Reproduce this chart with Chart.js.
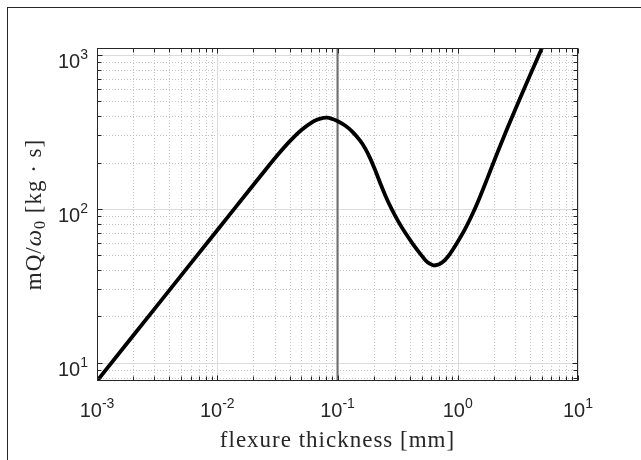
<!DOCTYPE html>
<html>
<head>
<meta charset="utf-8">
<script src="https://cdn.jsdelivr.net/npm/chart.js@4.4.1/dist/chart.umd.min.js"></script>
<style>
  html, body { margin: 0; padding: 0; background: #fff; }
  #wrap { position: relative; width: 641px; height: 460px; overflow: hidden; }
  #frame { position: absolute; left: 7px; top: 7px; width: 700px; height: 500px;
           border-left: 1px solid #262626; border-top: 1px solid #262626; }
  canvas { display: block; }
</style>
</head>
<body>
<div id="wrap">
  <canvas id="chart" width="641" height="460"></canvas>
  <div id="frame"></div>
</div>
<script>
// flexure thickness [mm] vs mQ/w0 [kg s]
const thickness = [0.001, 0.003162, 0.01, 0.01778, 0.02512, 0.03162, 0.03981, 0.05012, 0.0631, 0.0708,
                   0.0818, 0.0986, 0.1156, 0.1321, 0.1542, 0.1698, 0.1866, 0.2056, 0.2259, 0.2535,
                   0.2844, 0.3192, 0.3648, 0.4256, 0.4864, 0.5458, 0.5888, 0.6281, 0.6745, 0.7278,
                   0.7852, 0.865, 0.9829, 1.152, 1.352, 1.535, 1.746, 2.084, 2.559, 3.304,
                   3.999, 5.0];
const mqOverOmega = [7.6, 23.5, 72.6, 127.6, 178.9, 222.7, 273.2, 325.5, 369.9, 384.6,
                     391.7, 373.9, 348.0, 319.0, 277.7, 247.3, 213.6, 178.6, 147.9, 118.8,
                     98.3, 83.2, 70.1, 58.8, 51.2, 45.8, 43.8, 42.9, 43.2, 44.4,
                     46.6, 51.2, 59.7, 74.0, 95.6, 120.3, 154.7, 220.6, 327.7, 525.8,
                     741.8, 1104];

// vertical marker at 0.1 mm
const markerThickness = 0.1;

// axis limits and tick exponents
const xRange = [1e-3, 10];
const yRange = [7.6, 1110];
const xTickExponents = [-3, -2, -1, 0, 1];
const yTickExponents = [1, 2, 3];

const xTitle = 'flexure thickness [mm]';

function decadeValues(min, max) {
  const major = [], minor = [];
  for (let e = Math.floor(Math.log10(min)); e <= Math.ceil(Math.log10(max)); e++) {
    const p = Math.pow(10, e);
    if (p >= min * 0.9999 && p <= max * 1.0001) major.push(p);
    for (let m = 2; m <= 9; m++) {
      const v = m * p;
      if (v >= min && v <= max) minor.push(v);
    }
  }
  return { major, minor };
}

function drawPow(ctx, exp, x, baseY, align) {
  const base = '10';
  const sup = String(exp);
  ctx.font = '20px "Liberation Sans", Arial, sans-serif';
  const wb = ctx.measureText(base).width;
  ctx.font = '14px "Liberation Sans", Arial, sans-serif';
  const ws = ctx.measureText(sup).width;
  const total = wb + ws;
  let left = align === 'center' ? x - total / 2 : x - total;
  ctx.textAlign = 'left';
  ctx.textBaseline = 'alphabetic';
  ctx.font = '20px "Liberation Sans", Arial, sans-serif';
  ctx.fillText(base, left, baseY);
  ctx.font = '14px "Liberation Sans", Arial, sans-serif';
  ctx.fillText(sup, left + wb, baseY - 9);
}

const matlabAxes = {
  id: 'matlabAxes',
  beforeDatasetsDraw(chart) {
    const { ctx, chartArea: a, scales: { x, y } } = chart;
    const xs = decadeValues(xRange[0], xRange[1]);
    const ys = decadeValues(yRange[0], yRange[1]);
    ctx.save();
    ctx.lineWidth = 1;
    // minor grid, dotted
    ctx.setLineDash([1, 2]);
    ctx.strokeStyle = '#c4c4c4';
    xs.minor.forEach(v => {
      const px = Math.round(x.getPixelForValue(v)) + 0.5;
      ctx.beginPath(); ctx.moveTo(px, a.top); ctx.lineTo(px, a.bottom); ctx.stroke();
    });
    ys.minor.forEach(v => {
      const py = Math.round(y.getPixelForValue(v)) + 0.5;
      ctx.beginPath(); ctx.moveTo(a.left, py); ctx.lineTo(a.right, py); ctx.stroke();
    });
    // major grid, solid
    ctx.setLineDash([]);
    ctx.strokeStyle = '#dcdcdc';
    xs.major.forEach(v => {
      const px = Math.round(x.getPixelForValue(v)) + 0.5;
      ctx.beginPath(); ctx.moveTo(px, a.top); ctx.lineTo(px, a.bottom); ctx.stroke();
    });
    ys.major.forEach(v => {
      const py = Math.round(y.getPixelForValue(v)) + 0.5;
      ctx.beginPath(); ctx.moveTo(a.left, py); ctx.lineTo(a.right, py); ctx.stroke();
    });
    ctx.restore();
  },
  afterDraw(chart) {
    const { ctx, chartArea: a, scales: { x, y } } = chart;
    const xs = decadeValues(xRange[0], xRange[1]);
    const ys = decadeValues(yRange[0], yRange[1]);
    const L = Math.round(a.left) + 0.5, R = Math.round(a.right) - 0.5;
    const T = Math.round(a.top) + 0.5, B = Math.round(a.bottom) - 0.5;
    ctx.save();
    ctx.strokeStyle = '#262626';
    ctx.lineWidth = 1;
    ctx.strokeRect(L, T, R - L, B - T);

    // inward ticks on all four sides
    const tick = (vals, len) => {
      vals.forEach(v => {
        const px = Math.round(x.getPixelForValue(v)) + 0.5;
        ctx.beginPath();
        ctx.moveTo(px, B); ctx.lineTo(px, B - len);
        ctx.moveTo(px, T); ctx.lineTo(px, T + len);
        ctx.stroke();
      });
    };
    const tickY = (vals, len) => {
      vals.forEach(v => {
        const py = Math.round(y.getPixelForValue(v)) + 0.5;
        ctx.beginPath();
        ctx.moveTo(L, py); ctx.lineTo(L + len, py);
        ctx.moveTo(R, py); ctx.lineTo(R - len, py);
        ctx.stroke();
      });
    };
    tick(xs.major, 5); tick(xs.minor, 4);
    tickY(ys.major, 5); tickY(ys.minor, 4);

    // tick labels
    ctx.fillStyle = '#262626';
    xTickExponents.forEach(e => {
      drawPow(ctx, e, x.getPixelForValue(Math.pow(10, e)), a.bottom + 36, 'center');
    });
    yTickExponents.forEach(e => {
      drawPow(ctx, e, a.left - 9, y.getPixelForValue(Math.pow(10, e)) + 13, 'right');
    });

    // axis titles
    ctx.fillStyle = '#262626';
    ctx.font = '23px "Liberation Serif", "Times New Roman", serif';
    ctx.letterSpacing = '1px';
    ctx.textAlign = 'center';
    ctx.textBaseline = 'alphabetic';
    ctx.fillText(xTitle, (a.left + a.right) / 2, 446.5);

    // y title: mQ/ω0 [kg · s], rotated
    const parts = [
      { t: 'mQ/', f: '23px "Liberation Serif", serif', dy: 0 },
      { t: 'ω', f: 'italic 23px "Liberation Serif", serif', dy: 0 },
      { t: '0', f: '16px "Liberation Serif", serif', dy: 4 },
      { t: ' [kg · s]', f: '23px "Liberation Serif", serif', dy: 0 }
    ];
    let total = 0;
    parts.forEach(p => { ctx.font = p.f; p.w = ctx.measureText(p.t).width; total += p.w; });
    ctx.translate(40.5, (a.top + a.bottom) / 2);
    ctx.rotate(-Math.PI / 2);
    ctx.textAlign = 'left';
    let cx = -total / 2;
    parts.forEach(p => {
      ctx.font = p.f;
      ctx.fillText(p.t, cx, p.dy);
      cx += p.w;
    });
    ctx.restore();
  }
};

const curve = thickness.map((t, i) => ({ x: t, y: mqOverOmega[i] }));
const marker = [{ x: markerThickness, y: yRange[0] }, { x: markerThickness, y: yRange[1] }];

new Chart(document.getElementById('chart'), {
  type: 'line',
  data: {
    datasets: [
      { data: curve, borderColor: '#000000', borderWidth: 3.8, pointRadius: 0,
        tension: 0.3, order: 0 },
      { data: marker, borderColor: '#6e6e6e', borderWidth: 2, pointRadius: 0, order: 1 }
    ]
  },
  options: {
    responsive: false,
    animation: false,
    devicePixelRatio: 1,
    layout: { padding: { left: 97, right: 63, top: 48, bottom: 79 } },
    plugins: { legend: { display: false }, tooltip: { enabled: false } },
    scales: {
      x: { type: 'logarithmic', min: xRange[0], max: xRange[1], display: false },
      y: { type: 'logarithmic', min: yRange[0], max: yRange[1], display: false }
    }
  },
  plugins: [matlabAxes]
});
</script>
</body>
</html>
